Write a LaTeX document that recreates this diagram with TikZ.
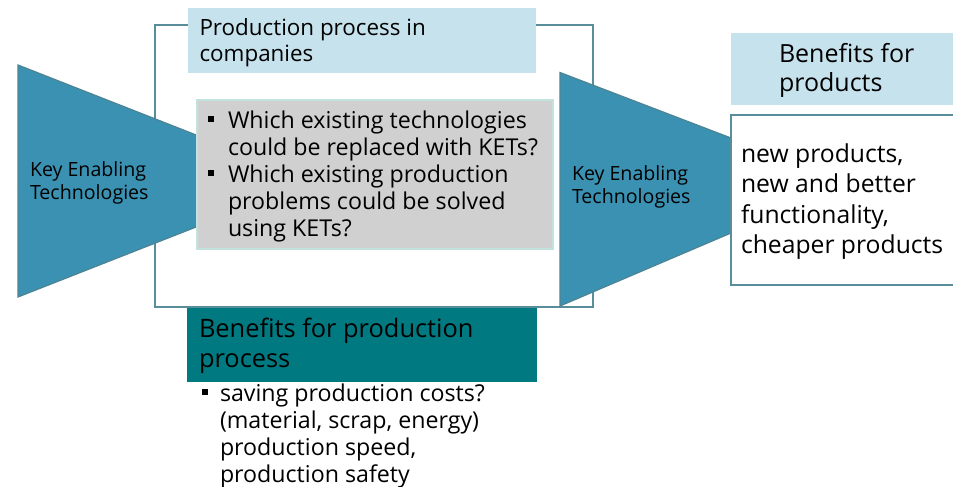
\documentclass[tikz,border=0pt]{standalone}
\usepackage{fontspec}
\setmainfont{Open Sans}
\definecolor{frameC}{HTML}{5A8D9A}
\definecolor{trapC}{HTML}{3B91B2}
\definecolor{trapD}{HTML}{4D8494}
\definecolor{lightB}{HTML}{C6E2EC}
\definecolor{grayB}{HTML}{D0D0D0}
\definecolor{grayD}{HTML}{C2E2DE}
\definecolor{tealB}{HTML}{007A80}
\newcommand{\mybul}{\rule[0.28em]{0.25em}{0.25em}}
\begin{document}
\begin{tikzpicture}[x=1pt,y=-1pt,
  box/.style={anchor=north west, inner sep=0pt, outer sep=0pt},
  txt/.style={anchor=base west, inner sep=0pt, outer sep=0pt},
  trap/.style={fill=trapC, draw=trapD, line width=1.2pt, line join=miter}]
\useasboundingbox (0,0) rectangle (953,487);
% outer frame
\node[box, draw=frameC, line width=2pt, minimum width=438pt, minimum height=282pt] (frame) at (155,25) {};
% left trapezoid
\draw[trap] (18,65) -- (230,148.3) -- (230,213.7) -- (18,297) -- cycle;
% title box
\node[box, fill=lightB, minimum width=348pt, minimum height=65.5pt] (ppbox) at (188,8) {};
\node[txt, font=\fontsize{22.4}{25.8}\selectfont] (pptext) at (199.5,36) {\begin{tabular}[t]{@{}l@{}}Production process in\\companies\end{tabular}};
% gray box
\node[box, fill=grayB, draw=grayD, line width=1.5pt, minimum width=356pt, minimum height=149pt] (qbox) at (197,100) {};
\node[txt, font=\fontsize{23.2}{27.1}\selectfont] (qtext) at (208,128.3) {\begin{tabular}[t]{@{}p{20pt}@{}l@{}}\mybul & Which existing technologies\\ & could be replaced with KETs?\\ \mybul & Which existing production\\ & problems could be solved\\ & using KETs?\end{tabular}};
\node[txt, font=\fontsize{19.6}{23.4}\selectfont] (ketL) at (30,176) {\begin{tabular}[t]{@{}l@{}}Key Enabling\\Technologies\end{tabular}};
% right trapezoid
\draw[trap] (560,72.5) -- (731,138) -- (731,233) -- (560,306) -- cycle;
\node[txt, font=\fontsize{19.6}{23.4}\selectfont] (ketR) at (572,180) {\begin{tabular}[t]{@{}l@{}}Key Enabling\\Technologies\end{tabular}};
% benefits for products
\node[box, fill=lightB, minimum width=230pt, minimum height=72pt] (bpbox) at (731,33) {};
\node[txt, font=\fontsize{25}{28.7}\selectfont] (bptext) at (779,63) {\begin{tabular}[t]{@{}l@{}}Benefits for\\products\end{tabular}};
\node[box, fill=white, draw=frameC, line width=2pt, minimum width=240pt, minimum height=170pt] (npbox) at (731,115) {};
\node[txt, font=\fontsize{24.7}{30.5}\selectfont] (nptext) at (741,162) {\begin{tabular}[t]{@{}l@{}}new products,\\new and better\\functionality,\\cheaper products\end{tabular}};
% benefits for production process
\node[box, fill=tealB, minimum width=350pt, minimum height=74pt] (bppbox) at (187,308) {};
\node[txt, font=\fontsize{25.4}{30}\selectfont] (bpptext) at (199,337) {\begin{tabular}[t]{@{}l@{}}Benefits for production\\process\end{tabular}};
\node[txt, font=\fontsize{23.2}{27}\selectfont] (savtext) at (202,401.7) {\begin{tabular}[t]{@{}p{18pt}@{}l@{}}\mybul & saving production costs?\\ & (material, scrap, energy)\\ & production speed,\\ & production safety\end{tabular}};
\end{tikzpicture}
\end{document}
